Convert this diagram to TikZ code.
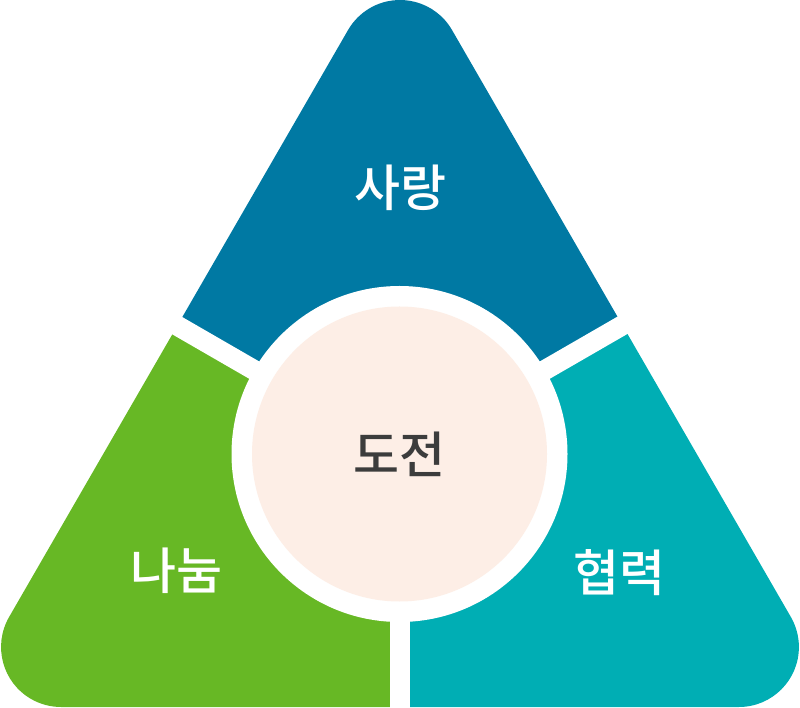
\documentclass[tikz,border=0pt]{standalone}
\usepackage{fontspec}
\newfontfamily\kofont[UprightFont=* Medium]{Noto Sans CJK KR}
\usepackage{tikz}
\usetikzlibrary{positioning, calc}
\usepackage{xcolor}
\definecolor{triblue}{HTML}{0079A3}
\definecolor{trigreen}{HTML}{67B825}
\definecolor{triteal}{HTML}{00AEB4}
\definecolor{tripeach}{HTML}{FDEEE6}
\definecolor{tritext}{HTML}{3C3C3C}

\begin{document}
\begin{tikzpicture}[x=1pt, y=1pt,
    label/.style={font=\kofont\fontsize{50}{50}\selectfont, text=white, inner sep=0pt},
    gap/.style={line width=20pt, white}]
      \useasboundingbox (0,0) rectangle (800,707);
      \coordinate (o) at (399.5,253);

      % rounded triangle, cut into three parts
      \def\tri{(61.1,0) -- (738.9,0) arc[start angle=-90, end angle=30, radius=60]
        -- (452,677) arc[start angle=30, end angle=150, radius=60]
        -- (9.1,90) arc[start angle=150, end angle=270, radius=60] -- cycle}
      \begin{scope}
        \clip (o) -- ++(30:1200) -- ++(0,900) -- ($(o)+(150:1200)+(0,900)$) -- ($(o)+(150:1200)$) -- cycle;
        \fill[triblue] \tri;
      \end{scope}
      \begin{scope}
        \clip (o) -- ++(150:1200) -- ++(0,-900) -- ($(o)+(0,-900)$) -- cycle;
        \fill[trigreen] \tri;
      \end{scope}
      \begin{scope}
        \clip (o) -- ++(30:1200) -- ++(0,-900) -- ($(o)+(0,-900)$) -- cycle;
        \fill[triteal] \tri;
      \end{scope}

      \coordinate (gl) at ($(o)+(150:500)$);
      \coordinate (gr) at ($(o)+(30:500)$);
      \coordinate (gb) at ($(o)+(0,-500)$);
      \draw[gap] (o) -- (gl);
      \draw[gap] (o) -- (gr);
      \draw[gap] (o) -- (gb);

      % centre
      \fill[white] (o) circle[radius=168];
      \fill[tripeach] (o) circle[radius=147.5];

      \node[label] (love) at (400,519.5) {사랑};
      \node[label] (share) at (176.5,136) {나눔};
      \node[label] (coop) at (619.5,134) {협력};
      \node[label, text=tritext] (chal) at (o) {도전};
    \end{tikzpicture}
\end{document}
